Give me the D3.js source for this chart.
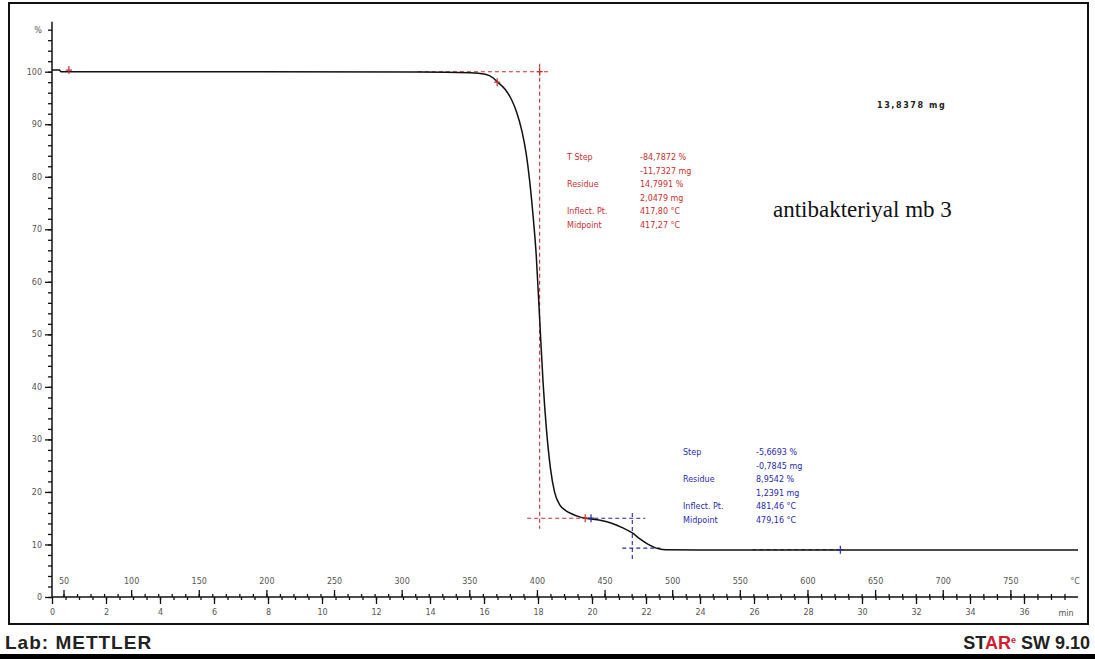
<!DOCTYPE html>
<html>
<head>
<meta charset="utf-8">
<script src="https://cdn.jsdelivr.net/npm/d3@7"></script>
<style>
  body { margin: 0; background: #fff; }
  svg { display: block; }
  .tick text { font-family: 'DejaVu Sans', sans-serif; font-size: 8px; fill: #555; }
</style>
</head>
<body>
<script>
// TGA curve (temperature axis °C, mass %)
const curveTemp = [41.5, 47, 48, 313, 350.7, 361.8, 367.7, 370.6, 376.6, 381.0, 385.0, 389.0, 392.0, 394.5, 397.0, 399.5, 402.0, 404.5, 407.0, 410.0, 413.0, 417.0, 421.0, 426.0, 431.0, 436.0, 446.8, 455.7, 463.1, 470.5, 476.4, 482.3, 488.2, 494.9, 520.8, 800]
const curveMass = [100.3, 100.3, 100.0, 99.95, 99.8, 99.5, 98.8, 98.1, 96.6, 94.8, 92.3, 88.6, 84.5, 79.5, 73.0, 65.0, 53.0, 41.0, 32.0, 24.5, 20.0, 17.5, 16.5, 15.8, 15.3, 15.0, 14.6, 14.0, 13.2, 12.2, 11.0, 10.0, 9.3, 9.0, 8.95, 8.95]

const massTicks = [0, 10, 20, 30, 40, 50, 60, 70, 80, 90, 100]
const tempTicks = [50, 100, 150, 200, 250, 300, 350, 400, 450, 500, 550, 600, 650, 700, 750]
const timeTicks = [0, 2, 4, 6, 8, 10, 12, 14, 16, 18, 20, 22, 24, 26, 28, 30, 32, 34, 36]

const sampleMass = '13,8378 mg'
const sampleName = 'antibakteriyal mb 3'

const redLabels = ['T Step', '', 'Residue', '', 'Inflect. Pt.', 'Midpoint']
const redValues = ['-84,7872 %', '-11,7327 mg', '14,7991 %', '2,0479 mg', '417,80 °C', '417,27 °C']
const blueLabels = ['Step', '', 'Residue', '', 'Inflect. Pt.', 'Midpoint']
const blueValues = ['-5,6693 %', '-0,7845 mg', '8,9542 %', '1,2391 mg', '481,46 °C', '479,16 °C']

// evaluation construction lines: [t1, m1, t2, m2]
const redGuides = [[312, 100, 408.5, 100], [402, 101.5, 402, 13], [392.8, 15.0, 435.7, 15.0]]
const blueGuides = [[437.2, 15.0, 480.1, 15.0], [470.5, 16, 470.5, 7], [463.1, 9.3, 491.2, 9.3], [559.2, 9.0, 624.3, 9.0]]
const redMarks = [[54, 100.3], [402, 100], [370.6, 98.0], [435.7, 15.0]]
const blueMarks = [[440, 15.0], [624.3, 9.0]]

const W = 1095, H = 659
const svg = d3.select('body').append('svg').attr('width', W).attr('height', H)

const x = d3.scaleLinear().domain([41.5, 800]).range([52, 1078])
const xTime = d3.scaleLinear().domain([0, 38]).range([52, 1078])
const y = d3.scaleLinear().domain([0, 100]).range([597, 71.7])

// frame
svg.append('rect').attr('x', 9).attr('y', 3).attr('width', 1079).attr('height', 621)
  .attr('fill', 'none').attr('stroke', '#111').attr('stroke-width', 2)
svg.append('rect').attr('x', 0).attr('y', 654).attr('width', W).attr('height', 5).attr('fill', '#000')

// y axis
const gY = svg.append('g').attr('transform', 'translate(52,0)')
gY.call(d3.axisLeft(y).tickValues(d3.range(0, 110, 2)).tickSize(4).tickSizeOuter(0).tickFormat(''))
gY.call(g => g.select('.domain').remove())
const gYMajor = svg.append('g').attr('transform', 'translate(52,0)')
gYMajor.call(d3.axisLeft(y).tickValues(massTicks).tickSize(7).tickPadding(3).tickSizeOuter(0))
gYMajor.select('.domain').remove()
svg.append('line').attr('x1', 52).attr('x2', 52).attr('y1', y(109.5)).attr('y2', 597)
  .attr('stroke', '#111').attr('stroke-width', 1.5)
svg.append('text').attr('x', 38).attr('y', 33).attr('text-anchor', 'middle')
  .style('font-family', 'DejaVu Sans').style('font-size', '8px').attr('fill', '#555').text('%')

// temperature axis (above)
const gT = svg.append('g').attr('transform', 'translate(0,597)')
gT.call(d3.axisTop(x).tickValues(d3.range(50, 800, 10)).tickSize(3).tickSizeOuter(0).tickFormat(''))
gT.select('.domain').remove()
const gTMajor = svg.append('g').attr('transform', 'translate(0,597)')
gTMajor.call(d3.axisTop(x).tickValues(tempTicks).tickSize(7).tickPadding(6).tickSizeOuter(0))
gTMajor.select('.domain').remove()

// time axis (below)
const gM = svg.append('g').attr('transform', 'translate(0,597)')
gM.call(d3.axisBottom(xTime).tickValues(d3.range(0.5, 38, 0.5)).tickSize(3).tickSizeOuter(0).tickFormat(''))
gM.select('.domain').remove()
const gMMajor = svg.append('g').attr('transform', 'translate(0,597)')
gMMajor.call(d3.axisBottom(xTime).tickValues(timeTicks).tickSize(7).tickPadding(5).tickSizeOuter(0))
gMMajor.select('.domain').remove()
svg.selectAll('.tick line').attr('stroke', '#111').attr('stroke-width', 1.3)

svg.append('line').attr('x1', 52).attr('x2', 1078).attr('y1', 597).attr('y2', 597)
  .attr('stroke', '#111').attr('stroke-width', 1.5)
svg.append('text').attr('x', 1075).attr('y', 584).attr('text-anchor', 'middle')
  .style('font-family', 'DejaVu Sans').style('font-size', '8px').attr('fill', '#555').text('°C')
svg.append('text').attr('x', 1066).attr('y', 616).attr('text-anchor', 'middle')
  .style('font-family', 'DejaVu Sans').style('font-size', '8px').attr('fill', '#555').text('min')

// construction lines
function guides(list, colour) {
  svg.append('g').selectAll('line').data(list).join('line')
    .attr('x1', d => x(d[0])).attr('y1', d => y(d[1]))
    .attr('x2', d => x(d[2])).attr('y2', d => y(d[3]))
    .attr('stroke', colour).attr('stroke-width', 1.1).attr('stroke-dasharray', '4,3')
}
guides(redGuides, '#c83030')
guides(blueGuides, '#2a2a9a')

// curve
const line = d3.line().x(d => x(d[0])).y(d => y(d[1])).curve(d3.curveMonotoneX)
svg.append('path').datum(curveTemp.map((t, i) => [t, curveMass[i]]))
  .attr('d', line).attr('fill', 'none').attr('stroke', '#111').attr('stroke-width', 1.5)

// markers
function marks(list, colour) {
  svg.append('g').selectAll('path').data(list).join('path')
    .attr('d', d => `M${x(d[0]) - 3},${y(d[1])}h6M${x(d[0])},${y(d[1]) - 4}v8`)
    .attr('stroke', colour).attr('stroke-width', 1.2)
}
marks(redMarks, '#c83030')
marks(blueMarks, '#2a2a9a')

// result blocks
function block(labels, values, x0, x1, y0, colour) {
  const g = svg.append('g').style('font-family', 'DejaVu Sans').style('font-size', '8px').attr('fill', colour)
  g.selectAll('.lab').data(labels).join('text').attr('class', 'lab')
    .attr('x', x0).attr('y', (d, i) => y0 + i * 13.6).text(d => d)
  g.selectAll('.val').data(values).join('text').attr('class', 'val')
    .attr('x', x1).attr('y', (d, i) => y0 + i * 13.6).text(d => d)
}
block(redLabels, redValues, 567, 640, 160, '#c83030')
block(blueLabels, blueValues, 683, 756, 455, '#2a2ab0')

svg.append('text').attr('x', 877).attr('y', 108)
  .style('font-family', 'DejaVu Sans').style('font-size', '8px').style('font-weight', 'bold')
  .style('letter-spacing', '1.6px').attr('fill', '#222').text(sampleMass)
svg.append('text').attr('x', 773).attr('y', 217)
  .style('font-family', 'Liberation Serif, serif').style('font-size', '23px').attr('fill', '#111').text(sampleName)

// footer
svg.append('text').attr('x', 5).attr('y', 649)
  .style('font-family', 'Liberation Sans, Arial').style('font-size', '19px').style('font-weight', 'bold')
  .style('letter-spacing', '1px').attr('fill', '#222').text('Lab: METTLER')
const star = svg.append('text').attr('x', 1090).attr('y', 649).attr('text-anchor', 'end')
  .style('font-family', 'Liberation Sans, Arial').style('font-size', '18px').style('font-weight', 'bold').attr('fill', '#222')
star.append('tspan').text('ST')
star.append('tspan').attr('fill', '#d02030').text('AR')
star.append('tspan').attr('fill', '#d02030').attr('dy', -6).style('font-size', '9px').text('e')
star.append('tspan').attr('dy', 6).text(' SW 9.10')
</script>
</body>
</html>
